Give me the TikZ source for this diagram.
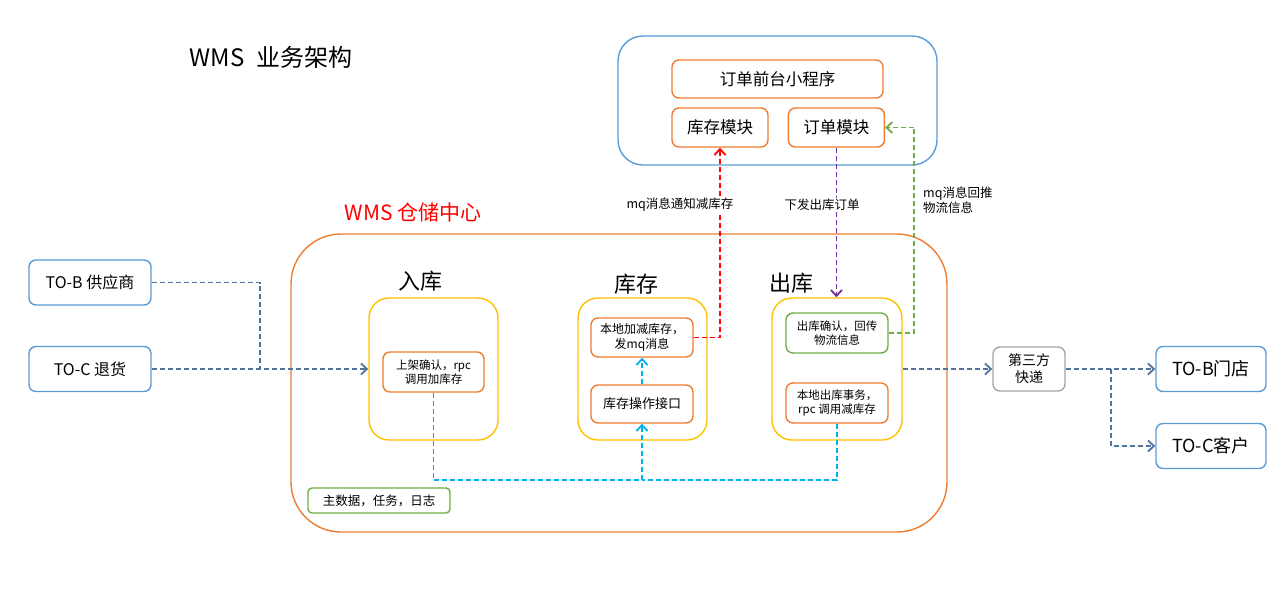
\documentclass[tikz,border=0pt]{standalone}
\usepackage{fontspec}
\setmainfont{Noto Sans CJK SC}
\usepackage{tikz}
\usetikzlibrary{arrows.meta}
\usetikzlibrary{positioning}
\definecolor{sysblue}{HTML}{5B9BD5}
\definecolor{modorange}{HTML}{ED7D31}
\definecolor{zoneyellow}{HTML}{FFC000}
\definecolor{okgreen}{HTML}{70AD47}
\definecolor{shipgray}{HTML}{A5A5A5}
\definecolor{flowblue}{HTML}{52739C}
\definecolor{mqpurple}{HTML}{7030A0}
\definecolor{busCyan}{HTML}{00B0F0}

\begin{document}
\begin{tikzpicture}[x=1pt, y=-1pt,
                    >={Straight Barb[length=6pt,width=11pt]},
                    box/.style={rectangle, rounded corners=7pt, draw, line width=1.4pt,
                                fill=white, align=center, inner sep=0pt},
                    ext/.style={box, draw=sysblue, minimum width=122pt, minimum height=45pt,
                                font=\fontsize{16}{19}\selectfont},
                    mod/.style={box, draw=modorange, minimum height=39pt,
                                font=\fontsize{16.5}{20}\selectfont},
                    op/.style={box, draw=modorange, minimum width=102pt, minimum height=39pt,
                               font=\fontsize{12}{15}\selectfont},
                    zone/.style={rectangle, rounded corners=20pt, draw=zoneyellow, line width=1.4pt,
                                 minimum width=129pt, minimum height=142pt},
                    head/.style={font=\fontsize{22}{26}\selectfont},
                    flow/.style={draw=flowblue, line width=1.8pt, dash pattern=on 5pt off 3pt},
                    mq/.style={line width=1.8pt, dash pattern=on 5pt off 3pt},
                    lbl/.style={fill=white, inner sep=1pt, font=\fontsize{12.5}{16}\selectfont}
                    ]
  \useasboundingbox (0,0) rectangle (1288,595);

  \node[font=\fontsize{24}{28}\selectfont] (title) at (271,57) {WMS\hspace{0.5em}业务架构};

  % order system
  \node[rectangle, rounded corners=25pt, draw=sysblue, line width=1.4pt,
        minimum width=319pt, minimum height=129pt] (orders) at (777.5,100.5) {};
  \node[mod, minimum width=211pt, minimum height=38pt] (front) at (777.5,79) {订单前台小程序};
  \node[mod, minimum width=96pt] (kcmk) at (720,127.5) {库存模块};
  \node[mod, minimum width=96pt, right=19pt of kcmk] (ddmk) {订单模块};

  % warehouse center
  \node[text=red, font=\fontsize{21}{25}\selectfont] (wmstitle) at (413,212) {WMS 仓储中心};
  \node[rectangle, rounded corners=50pt, draw=modorange, line width=1.4pt,
        minimum width=656pt, minimum height=298pt] (wms) at (619,383) {};

  \node[zone] (inbox) at (433.5,369) {};
  \node[zone] (stockbox) at (642.5,369) {};
  \node[zone, minimum width=130pt] (outbox) at (837,369) {};
  \node[head] (inhead) at (420,281) {入库};
  \node[head] (stockhead) at (636,284) {库存};
  \node[head] (outhead) at (791,283) {出库};

  \node[op, minimum width=101pt, minimum height=40pt, font=\fontsize{11.5}{14}\selectfont]
       (sjqr) at (433.5,372) {上架确认，rpc\\调用加库存};
  \node[op] (bdjj) at (642,337.5) {本地加减库存，\\发mq消息};
  \node[op, minimum height=38pt, font=\fontsize{13}{16}\selectfont] (kcjk) at (642,404) {库存操作接口};
  \node[op, draw=okgreen, minimum height=40pt, font=\fontsize{11.5}{14}\selectfont]
       (ckqr) at (837,333) {出库确认，回传\\物流信息};
  \node[op, minimum height=40pt, font=\fontsize{11.5}{14}\selectfont]
       (bdck) at (837,403) {本地出库事务，\\rpc 调用减库存};
  \node[box, rounded corners=4pt, draw=okgreen, minimum width=142pt, minimum height=25pt,
        font=\fontsize{12.5}{15}\selectfont] (master) at (379,500.5) {主数据，任务，日志};

  % outside parties
  \node[ext] (tob) at (90,282.5) {TO-B 供应商};
  \node[ext] (toc) at (90,369) {TO-C 退货};
  \node[box, draw=shipgray, minimum width=72pt, minimum height=44pt,
        font=\fontsize{14}{17}\selectfont] (express) at (1029,369) {第三方\\快递};
  \node[ext, minimum width=110pt, font=\fontsize{18}{21}\selectfont] (tobstore) at (1211,369) {TO-B门店};
  \node[ext, minimum width=110pt, font=\fontsize{18}{21}\selectfont] (toccust) at (1211,446) {TO-C客户};

  % goods flow
  \coordinate (join) at (260,369);
  \coordinate (split) at (1111,369);
  \draw[flow] (tob.east) -| (join);
  \draw[flow,->] (toc.east) -- (inbox.west);
  \draw[flow,->] (outbox.east) -- (express.west);
  \draw[flow,->] (express.east) -- (tobstore.west);
  \draw[flow,->] (split) |- (toccust.west);

  % messages
  \coordinate (gturn) at (914,127.5);
  \draw[mq, draw=red, ->] (bdjj.east) -| (kcmk.south);
  \draw[mq, draw=mqpurple, ->] (ddmk.south) -- (ddmk.south |- outbox.north);
  \draw[mq, draw=okgreen] (ckqr.east) -| (gturn);
  \draw[mq, draw=okgreen, ->] (gturn) -- (ddmk.east);
  \node[lbl] (redlbl) at (680,205) {mq消息通知减库存};
  \node[lbl] (purplelbl) at (822,205) {下发出库订单};
  \node[lbl, fill=none, anchor=west, align=left, font=\fontsize{12.5}{15}\selectfont]
       (greenlbl) at (922,200) {mq消息回推\\物流信息};

  % stock calls
  \coordinate (cbus) at (642,480);
  \draw[mq, draw=busCyan, ->] (kcjk.north) -- (bdjj.south);
  \draw[mq, draw=busCyan] (sjqr.south) |- (cbus);
  \draw[mq, draw=busCyan] (bdck.south) |- (cbus);
  \draw[mq, draw=busCyan, ->] (cbus) -- (kcjk.south);
\end{tikzpicture}
\end{document}
